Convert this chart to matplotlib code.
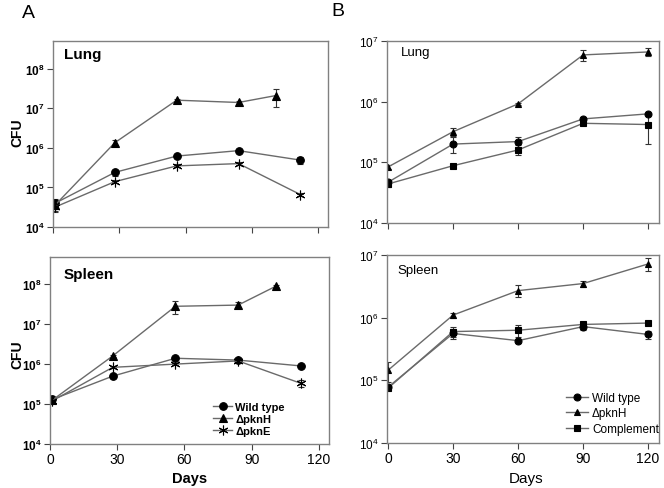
import numpy as np
import matplotlib
matplotlib.use("Agg")
import matplotlib.pyplot as plt
from matplotlib.lines import Line2D

plt.rcParams['font.family'] = ['Liberation Sans', 'DejaVu Sans']
plt.rcParams['mathtext.fontset'] = 'custom'
plt.rcParams['mathtext.rm'] = 'Liberation Sans'
plt.rcParams['mathtext.bf'] = 'Liberation Sans:bold'

# panel A: days
daysA = [1, 28, 56, 84, 112]
daysA_pknH = [1, 28, 56, 84, 101]
# panel A lung
lungA_wt = [4.0e4, 2.4e5, 6.2e5, 8.5e5, 4.9e5]
lungA_wt_err = [1.0e4, 4e4, 5e4, 6e4, 1.0e5]
lungA_pknH = [3.6e4, 1.35e6, 1.6e7, 1.4e7, 2.1e7]
lungA_pknH_err = [1.0e4, 2e5, 1e6, 1e6, 1.0e7]
lungA_pknE = [3.2e4, 1.4e5, 3.5e5, 4.0e5, 6.6e4]
lungA_pknE_err = [8e3, 1e4, 3e4, 3e4, 5e3]
# panel A spleen
spleenA_wt = [1.3e5, 5.0e5, 1.4e6, 1.26e6, 9.0e5]
spleenA_wt_err = [1e4, 4e4, 1e5, 1e5, 5e4]
spleenA_pknH = [1.25e5, 1.6e6, 2.8e7, 3.0e7, 9.0e7]
spleenA_pknH_err = [1e4, 1e5, 1.0e7, 5e6, 5e6]
spleenA_pknE = [1.2e5, 8.3e5, 1.0e6, 1.2e6, 3.3e5]
spleenA_pknE_err = [1e4, 5e4, 5e4, 5e4, 6e4]

# panel B
daysB = [0, 30, 60, 90, 120]
lungB_wt = [4.7e4, 2.0e5, 2.2e5, 5.2e5, 6.3e5]
lungB_wt_err = [4e3, 6e4, 4e4, 4e4, 3e4]
lungB_pknH = [8.4e4, 3.2e5, 9.2e5, 5.9e6, 6.6e6]
lungB_pknH_err = [5e3, 5e4, 3e4, 1.3e6, 1.0e6]
lungB_comp = [4.4e4, 8.8e4, 1.6e5, 4.4e5, 4.2e5]
lungB_comp_err = [5e3, 5e3, 3e4, 3e4, 2.2e5]
spleenB_wt = [7.8e4, 5.6e5, 4.3e5, 7.2e5, 5.4e5]
spleenB_wt_err = [5e3, 1e5, 3e4, 8e4, 8e4]
spleenB_pknH = [1.45e5, 1.1e6, 2.7e6, 3.5e6, 7.2e6]
spleenB_pknH_err = [5e4, 1e5, 6e5, 4e5, 1.7e6]
spleenB_comp = [7.5e4, 6.0e5, 6.3e5, 7.8e5, 8.2e5]
spleenB_comp_err = [5e3, 1e5, 1.4e5, 5e4, 5e4]

line_c = '#6a6a6a'
spine_c = '#808080'

fig = plt.figure(figsize=(6.64, 4.89), dpi=100)
axA1 = fig.add_axes([0.0798, 0.5337, 0.4142, 0.3804])
axA2 = fig.add_axes([0.0753, 0.090, 0.4200, 0.3824])
axB1 = fig.add_axes([0.5828, 0.5419, 0.4096, 0.3722])
axB2 = fig.add_axes([0.5828, 0.092, 0.4096, 0.3845])

STAR = (6, 2, 0)


def series(ax, x, y, err, marker, ms):
    ax.errorbar(x, y, yerr=err, color=line_c, lw=1.0, marker=marker, ms=ms,
                mfc='black', mec='black', mew=0.8, ecolor='#333333',
                elinewidth=0.8, capsize=2.5, capthick=0.8)


def style(ax, ylim, xlim, yticks, bold):
    ax.set_yscale('log')
    ax.set_ylim(*ylim)
    ax.set_xlim(*xlim)
    ax.set_xticks([0, 30, 60, 90, 120])
    ax.set_yticks(yticks)
    ax.minorticks_off()
    for s in ax.spines.values():
        s.set_color(spine_c)
        s.set_linewidth(1.0)
    ax.tick_params(direction='out', length=4, width=0.8, color='#444444',
                   labelsize=8.5, pad=2)
    if bold:
        labs = [r'$\mathbf{10^{%d}}$' % int(np.log10(t)) for t in yticks]
    else:
        labs = [r'$10^{%d}$' % int(np.log10(t)) for t in yticks]
    ax.set_yticklabels(labs)


series(axA1, daysA, lungA_wt, lungA_wt_err, 'o', 5.5)
series(axA1, daysA_pknH, lungA_pknH, lungA_pknH_err, '^', 6)
series(axA1, daysA, lungA_pknE, lungA_pknE_err, STAR, 7)
series(axA2, daysA, spleenA_wt, spleenA_wt_err, 'o', 5.5)
series(axA2, daysA_pknH, spleenA_pknH, spleenA_pknH_err, '^', 6)
series(axA2, daysA, spleenA_pknE, spleenA_pknE_err, STAR, 7)

series(axB1, daysB, lungB_wt, lungB_wt_err, 'o', 5)
series(axB1, daysB, lungB_pknH, lungB_pknH_err, '^', 4.5)
series(axB1, daysB, lungB_comp, lungB_comp_err, 's', 5)
series(axB2, daysB, spleenB_wt, spleenB_wt_err, 'o', 5)
series(axB2, daysB, spleenB_pknH, spleenB_pknH_err, '^', 4.5)
series(axB2, daysB, spleenB_comp, spleenB_comp_err, 's', 5)

ticksA = [1e4, 1e5, 1e6, 1e7, 1e8]
ticksB = [1e4, 1e5, 1e6, 1e7]
style(axA1, (1e4, 5e8), (0, 124.5), ticksA, True)
style(axA2, (1e4, 4.8e8), (0, 124.5), ticksA, True)
style(axB1, (1e4, 1e7), (-0.5, 125), ticksB, False)
style(axB2, (1e4, 1e7), (-0.5, 125), ticksB, False)
for ax in (axA1, axB1):
    ax.set_xticklabels([])
for ax in (axA2, axB2):
    ax.tick_params(axis='x', labelsize=10)

axA1.text(0.04, 0.93, 'Lung', transform=axA1.transAxes, fontsize=11,
          fontweight='bold', va='center')
axA2.text(0.05, 0.91, 'Spleen', transform=axA2.transAxes, fontsize=11,
          fontweight='bold', va='center')
axB1.text(0.05, 0.94, 'Lung', transform=axB1.transAxes, fontsize=9.5,
          va='center')
axB2.text(0.04, 0.92, 'Spleen', transform=axB2.transAxes, fontsize=9.5,
          va='center')

fig.text(17 / 664, 1 - 133 / 489, 'CFU', rotation=90, fontsize=10,
         fontweight='bold', ha='center', va='center')
fig.text(17 / 664, 1 - 355 / 489, 'CFU', rotation=90, fontsize=10,
         fontweight='bold', ha='center', va='center')
fig.text(190 / 664, 1 - 479 / 489, 'Days', fontsize=10.5,
         fontweight='bold', ha='center', va='center')
fig.text(526 / 664, 1 - 479 / 489, 'Days', fontsize=11,
         ha='center', va='center')
fig.text(28 / 664, 1 - 13 / 489, 'A', fontsize=14, ha='center', va='center')
fig.text(338 / 664, 1 - 12 / 489, 'B', fontsize=14, ha='center', va='center')


def handle(marker, ms):
    return Line2D([], [], color=line_c, lw=1.0, marker=marker, ms=ms,
                  mfc='black', mec='black', mew=0.8)


legA = axA2.legend([handle('o', 5.5), handle('^', 6), handle(STAR, 7)],
                   ['Wild type', '\u0394pknH', '\u0394pknE'],
                   loc='lower right', bbox_to_anchor=(0.87, 0.0), frameon=False,
                   prop={'weight': 'bold', 'size': 8}, handlelength=1.7,
                   handletextpad=0.3, labelspacing=0.2, borderpad=0.2)
legB = axB2.legend([handle('o', 5), handle('^', 4.5), handle('s', 5)],
                   ['Wild type', '\u0394pknH', 'Complement'],
                   loc='lower right', bbox_to_anchor=(1.03, 0.0), frameon=False,
                   prop={'size': 8.5}, handlelength=1.9,
                   handletextpad=0.3, labelspacing=0.3, borderpad=0.2)

fig.savefig('out.png', dpi=100)
